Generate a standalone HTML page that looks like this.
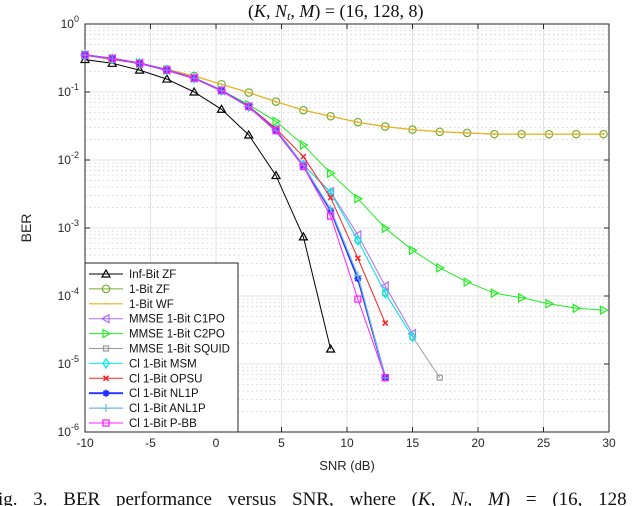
<!DOCTYPE html>
<html><head><meta charset="utf-8"><style>
body{margin:0;background:#fff;width:638px;height:506px;overflow:hidden}
svg{display:block;font-family:"Liberation Sans",sans-serif}
</style></head><body>
<svg id="chart" width="638" height="506" viewBox="0 0 638 506" xmlns="http://www.w3.org/2000/svg">
<text x="248" y="17" font-family="Liberation Serif, serif" font-size="18" fill="#111">(<tspan font-style="italic">K</tspan>, <tspan font-style="italic">N</tspan><tspan font-style="italic" font-size="12" dy="3">t</tspan><tspan dy="-3">, </tspan><tspan font-style="italic">M</tspan>) = (16, 128, 8)</text>
<g id="grid"></g><g id="axes"></g><g id="series"></g><g id="legend"></g>
<text x="347" y="470" text-anchor="middle" font-size="13" fill="#262626">SNR (dB)</text>
<text transform="translate(31,228) rotate(-90)" text-anchor="middle" font-size="14" fill="#262626">BER</text>
<text x="-2" y="505" font-family="Liberation Serif, serif" font-size="19" fill="#111" word-spacing="11">ig. 3. BER performance versus SNR, where (<tspan font-style="italic">K</tspan>, <tspan font-style="italic">N</tspan><tspan font-style="italic" font-size="13" dy="3">t</tspan><tspan dy="-3">, </tspan><tspan font-style="italic">M</tspan>) = (16, 128</text>
</svg>
<script>
const snr = [-10,-7.92,-5.83,-3.75,-1.67,0.42,2.5,4.58,6.67,8.75,10.83,12.92,15,17.08,19.17,21.25,23.33,25.42,27.5,29.58];
const xTicks = [-10,-5,0,5,10,15,20,25,30];
const yTicks = [0,-1,-2,-3,-4,-5,-6];
const infZF = [0.30,0.264,0.21,0.155,0.10,0.0557,0.0233,0.0059,7.4e-4,1.66e-5];
const zf1 = [0.35,0.30,0.264,0.215,0.172,0.13,0.098,0.072,0.054,0.044,0.036,0.031,0.028,0.026,0.025,0.024,0.024,0.024,0.024,0.024];
const wf1 = [0.35,0.30,0.264,0.215,0.172,0.13,0.098,0.072,0.054,0.044,0.036,0.031,0.028,0.026,0.025,0.024,0.024,0.024,0.024,0.024];
const c1po = [0.35,0.31,0.264,0.21,0.16,0.105,0.061,0.028,0.0085,0.0034,7.9e-4,1.4e-4,2.8e-5];
const c2po = [0.35,0.31,0.264,0.21,0.16,0.106,0.065,0.037,0.0166,0.0064,0.0027,9.9e-4,4.7e-4,2.6e-4,1.6e-4,1.1e-4,9.4e-5,7.7e-5,6.6e-5,6.2e-5];
const squid = [0.35,0.31,0.264,0.21,0.16,0.105,0.061,0.028,0.0085,0.0033,6.6e-4,1.1e-4,2.5e-5,6.3e-6];
const msm = [0.35,0.31,0.264,0.21,0.16,0.105,0.061,0.028,0.0085,0.0033,6.6e-4,1.1e-4,2.5e-5];
const opsu = [0.35,0.31,0.264,0.21,0.16,0.105,0.062,0.029,0.0112,0.0028,3.6e-4,4.0e-5];
const nl1p = [0.35,0.31,0.264,0.21,0.16,0.105,0.061,0.027,0.0082,0.0018,1.8e-4,6.3e-6];
const anl1p = [0.35,0.31,0.264,0.21,0.16,0.105,0.061,0.027,0.0083,0.0019,2.0e-4,6.3e-6];
const pbb = [0.35,0.31,0.264,0.21,0.16,0.105,0.061,0.027,0.008,0.0015,9.0e-5,6.3e-6];
const names = ["Inf-Bit ZF","1-Bit ZF","1-Bit WF","MMSE 1-Bit C1PO","MMSE 1-Bit C2PO","MMSE 1-Bit SQUID","Cl 1-Bit MSM","Cl 1-Bit OPSU","Cl 1-Bit NL1P","Cl 1-Bit ANL1P","Cl 1-Bit P-BB"];

const L=85,R=609,T=24,B=432;
const X=v=>L+(v+10)*(R-L)/40;
const Y=v=>T+(-Math.log10(v))*(B-T)/6;
const NS="http://www.w3.org/2000/svg";
function mk(tag,attrs,parent){const e=document.createElementNS(NS,tag);for(const k in attrs)e.setAttribute(k,attrs[k]);parent.appendChild(e);return e;}
const grid=document.getElementById('grid'),axes=document.getElementById('axes'),ser=document.getElementById('series'),leg=document.getElementById('legend');

xTicks.forEach(t=>{
  const l=mk('line',{x1:X(t),x2:X(t),y1:T,y2:B,stroke:'#e3e3e3','stroke-width':1},grid);
  
  
  const tk=mk('line',{x1:X(t),x2:X(t),y1:B,y2:B-5,stroke:'#262626'},axes);
  
  
  const tk2=mk('line',{x1:X(t),x2:X(t),y1:T,y2:T+5,stroke:'#262626'},axes);
  
  
  const tx=mk('text',{x:X(t),y:B+15,'text-anchor':'middle','font-size':12,fill:'#262626'},axes);
  tx.textContent=t;
  
  
});
yTicks.forEach(p=>{
  const y=Y(Math.pow(10,p));
  const l=mk('line',{x1:L,x2:R,y1:y,y2:y,stroke:'#e3e3e3'},grid);
  
  
  const tk=mk('line',{x1:L,x2:L+5,y1:y,y2:y,stroke:'#262626'},axes);
  
  
  const tk2=mk('line',{x1:R-5,x2:R,y1:y,y2:y,stroke:'#262626'},axes);
  
  
  if(p>-6){for(let m=2;m<=9;m++){const ym=Y(m*Math.pow(10,p-1));
    const d=mk('line',{x1:L,x2:R,y1:ym,y2:ym,stroke:'#d8d8d8','stroke-dasharray':'1.5,3'},grid);
    
    }}
  const tx=mk('text',{x:L-6,y:y+4,'text-anchor':'end','font-size':12,fill:'#262626'},axes);
  tx.innerHTML='10<tspan dy="-6" font-size="9">'+p+'</tspan>';
  
  
});
const box=mk('rect',{x:L,y:T,width:R-L,height:B-T,fill:'none',stroke:'#262626','stroke-width':1},axes);



function marker(type,x,y,c,g){
  let e;
  if(type==='tri')e=mk('path',{d:`M${x},${y-4}L${x+4},${y+3}L${x-4},${y+3}Z`,fill:'none',stroke:c,'stroke-width':1.2},g);
  else if(type==='circ')e=mk('circle',{cx:x,cy:y,r:3.7,fill:'none',stroke:c,'stroke-width':1.2},g);
  else if(type==='dot')e=mk('circle',{cx:x,cy:y,r:1,fill:c},g);
  else if(type==='tl')e=mk('path',{d:`M${x-4},${y}L${x+3},${y-4}L${x+3},${y+4}Z`,fill:'none',stroke:c,'stroke-width':1.2},g);
  else if(type==='tr')e=mk('path',{d:`M${x+4},${y}L${x-3},${y-4}L${x-3},${y+4}Z`,fill:'none',stroke:c,'stroke-width':1.2},g);
  else if(type==='sqs')e=mk('rect',{x:x-2.5,y:y-2.5,width:5,height:5,fill:'none',stroke:c,'stroke-width':1.2},g);
  else if(type==='sq')e=mk('rect',{x:x-3,y:y-3,width:6,height:6,fill:'none',stroke:c,'stroke-width':1.3},g);
  else if(type==='dia')e=mk('path',{d:`M${x},${y-4.5}L${x+3},${y}L${x},${y+4.5}L${x-3},${y}Z`,fill:'none',stroke:c,'stroke-width':1.3},g);
  else if(type==='x')e=mk('path',{d:`M${x-2.5},${y-2.5}L${x+2.5},${y+2.5}M${x-2.5},${y+2.5}L${x+2.5},${y-2.5}`,stroke:c,'stroke-width':1.5},g);
  else if(type==='star')e=mk('path',{d:`M${x-3.5},${y}L${x+3.5},${y}M${x},${y-3.5}L${x},${y+3.5}M${x-2.5},${y-2.5}L${x+2.5},${y+2.5}M${x-2.5},${y+2.5}L${x+2.5},${y-2.5}`,stroke:c,'stroke-width':1.8},g);
  else if(type==='plus')e=mk('path',{d:`M${x-4},${y}L${x+4},${y}M${x},${y-4}L${x},${y+4}`,stroke:c,'stroke-width':1.2},g);
  return e;
}
const specs=[
 [infZF,'#000000','tri',1],[zf1,'#77AC30','circ',1],[wf1,'#EDB120','dot',1.2],
 [c1po,'#B26BFF','tl',1],[c2po,'#22EE22','tr',1],[squid,'#9a9a9a','sqs',1],
 [msm,'#00F0F0','dia',1],[opsu,'#FF2020','x',1],[nl1p,'#2030FF','star',1.8],
 [anl1p,'#6CB8E8','plus',1.2],[pbb,'#FF20FF','sq',1]
];
const slugs=['inf-bit-zf','1-bit-zf','1-bit-wf','mmse-c1po','mmse-c2po','mmse-squid','cl-msm','cl-opsu','cl-nl1p','cl-anl1p','cl-p-bb'];
specs.forEach((s,i)=>{
  const [vals,c,m,w]=s;
  const g=mk('g',{},ser);
  
  
  const pts=vals.map((v,k)=>X(snr[k]).toFixed(1)+','+Y(v).toFixed(1)).join(' ');
  const pl=mk('polyline',{points:pts,fill:'none',stroke:c,'stroke-width':w},g);
  
  
  vals.forEach((v,k)=>{const e=marker(m,X(snr[k]),Y(v),c,g);
    
    });
  const ly=274+i*14.9;
  const lg=mk('g',{},leg);
  
  
  mk('line',{x1:89,x2:123,y1:ly,y2:ly,stroke:c,'stroke-width':w},lg);
  marker(m,106,ly,c,lg);
  const t=mk('text',{x:129,y:ly+4,'font-size':11.5,fill:'#111'},lg);
  t.textContent=names[i];
});
const lb=mk('rect',{x:L,y:263,width:153,height:B-263,fill:'#fff',stroke:'#262626','stroke-width':1},leg);


leg.insertBefore(lb,leg.firstChild);
</script>
</body></html>
